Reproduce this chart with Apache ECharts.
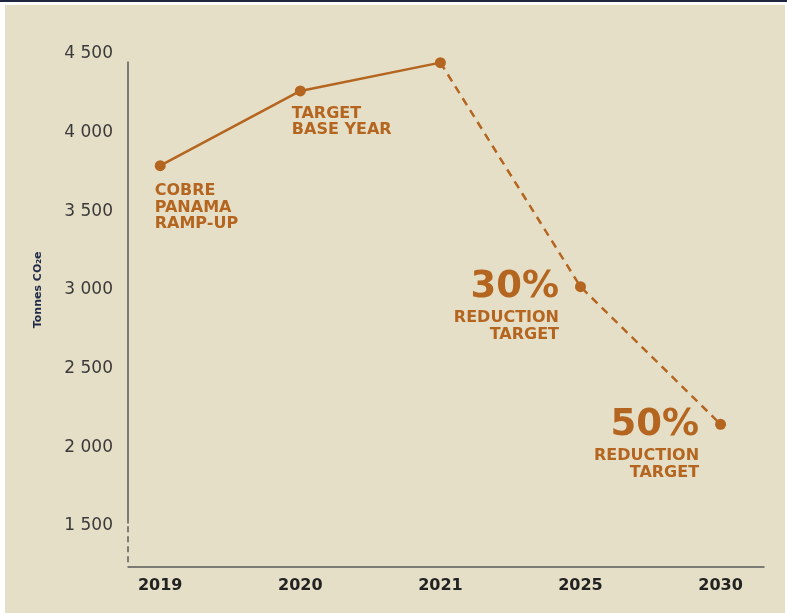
<!DOCTYPE html>
<html>
<head>
<meta charset="utf-8">
<script src="https://cdn.jsdelivr.net/npm/echarts@6/dist/echarts.min.js"></script>
<style>
  html, body { margin: 0; padding: 0; background: #ffffff; }
  #topbar { position: absolute; left: 0; top: 0; width: 787px; height: 2px; background: #1f2640; }
  #panel { position: absolute; left: 5px; top: 5px; width: 780px; height: 608px; background: #e6dfc7; }
  #chart { position: absolute; left: 0; top: 0; width: 787px; height: 613px; }
</style>
</head>
<body>
<div id="topbar"></div>
<div id="panel"></div>
<div id="chart"></div>
<script>
// Emissions, tonnes CO2e
const years = ['2019', '2020', '2021', '2025', '2030'];
const emissions = [3790, 4265, 4445, 3020, 2145];
const actualCount = 3; // 2019–2021 are reported, later years are targets
const yTicks = [1500, 2000, 2500, 3000, 3500, 4000, 4500];
const notes = [
  ['COBRE', 'PANAMA', 'RAMP-UP'],
  ['TARGET', 'BASE YEAR'],
  null,
  ['30%', 'REDUCTION', 'TARGET'],
  ['50%', 'REDUCTION', 'TARGET']
];

const ORANGE = '#b4651f';
const AXIS = '#5a5a5a';
const FONT = 'DejaVu Sans';

function fmtThousands(v) {
  const s = String(v);
  return s.length > 3 ? s.slice(0, s.length - 3) + ' ' + s.slice(-3) : s;
}

function noteLabel(i) {
  const n = notes[i];
  if (!n) return { show: false };
  if (n[0].endsWith('%')) {
    return {
      show: true,
      position: 'left',
      distance: 16,
      offset: [0, 18],
      formatter: '{big|' + n[0] + '}\n{small|' + n[1] + '}\n{small|' + n[2] + '}',
      rich: {
        big: { fontFamily: FONT, fontSize: 37, fontWeight: 'bold', color: ORANGE, lineHeight: 44, align: 'right' },
        small: { fontFamily: FONT, fontSize: 16, fontWeight: 'bold', color: ORANGE, lineHeight: 17, align: 'right' }
      }
    };
  }
  return {
    show: true,
    position: [i === 0 ? 0 : -3, i === 0 ? 23 : 20],
    align: 'left',
    verticalAlign: 'top',
    formatter: n.map(t => '{t|' + t + '}').join('\n'),
    rich: {
      t: { fontFamily: FONT, fontSize: 16, fontWeight: 'bold', color: ORANGE, lineHeight: 16.3 }
    }
  };
}

const solidData = [];
const dashedData = [];
emissions.forEach((v, i) => {
  if (i < actualCount) {
    solidData.push({ value: [i, v], label: noteLabel(i) });
  }
  if (i >= actualCount - 1) {
    const item = { value: [i, v], label: noteLabel(i) };
    if (i === actualCount - 1) { item.symbol = 'none'; item.label = { show: false }; }
    dashedData.push(item);
  }
});

const xRange = { min: -0.23, max: 4.31 };

const chart = echarts.init(document.getElementById('chart'), null, { renderer: 'canvas' });
chart.setOption({
  backgroundColor: 'transparent',
  animation: false,
  grid: [
    // plotting area with the tick labels
    { left: 128, right: 23, top: 54, bottom: 87.3 },
    // solid part of the vertical axis
    { left: 128, right: 23, top: 62, bottom: 90 },
    // broken part of the vertical axis and the year axis
    { left: 128, right: 23, top: 523, bottom: 46.3 }
  ],
  xAxis: [
    { gridIndex: 0, type: 'value', min: xRange.min, max: xRange.max, show: false },
    { gridIndex: 1, type: 'value', min: xRange.min, max: xRange.max, show: false },
    {
      gridIndex: 2, type: 'value', min: xRange.min, max: xRange.max,
      axisLine: { show: true, onZero: false, lineStyle: { color: AXIS, width: 1.5 } },
      axisTick: { show: false },
      splitLine: { show: false },
      axisLabel: {
        customValues: years.map((_, i) => i),
        formatter: v => years[Math.round(v)],
        margin: 11,
        fontFamily: FONT, fontSize: 16, fontWeight: 'bold', color: '#222222'
      }
    }
  ],
  yAxis: [
    {
      gridIndex: 0, type: 'value', min: yTicks[0], max: yTicks[yTicks.length - 1], interval: 500,
      axisLine: { show: false, onZero: false },
      axisTick: { show: false },
      splitLine: { show: false },
      axisLabel: {
        formatter: fmtThousands, margin: 15,
        fontFamily: FONT, fontSize: 17, color: '#3a3a3a'
      },
      name: 'Tonnes CO\u2082e',
      nameLocation: 'middle',
      nameGap: 84,
      nameTextStyle: { fontFamily: FONT, fontSize: 11, fontWeight: 'bold', color: '#1f2a48' }
    },
    {
      gridIndex: 1, type: 'value', min: 0, max: 1,
      axisLine: { show: true, onZero: false, lineStyle: { color: AXIS, width: 1.5 } },
      axisTick: { show: false }, axisLabel: { show: false }, splitLine: { show: false }
    },
    {
      gridIndex: 2, type: 'value', min: 0, max: 1,
      axisLine: { show: true, onZero: false, lineStyle: { color: AXIS, width: 1.5, type: [5, 5], dashOffset: -5 } },
      axisTick: { show: false }, axisLabel: { show: false }, splitLine: { show: false }
    }
  ],
  series: [
    {
      type: 'line', xAxisIndex: 0, yAxisIndex: 0,
      data: solidData,
      symbol: 'circle', symbolSize: 11,
      itemStyle: { color: ORANGE },
      lineStyle: { color: ORANGE, width: 2.5 },
      z: 3
    },
    {
      type: 'line', xAxisIndex: 0, yAxisIndex: 0,
      data: dashedData,
      symbol: 'circle', symbolSize: 11,
      itemStyle: { color: ORANGE },
      lineStyle: { color: ORANGE, width: 2.5, type: [8, 6] },
      z: 2
    }
  ]
});
</script>
</body>
</html>
